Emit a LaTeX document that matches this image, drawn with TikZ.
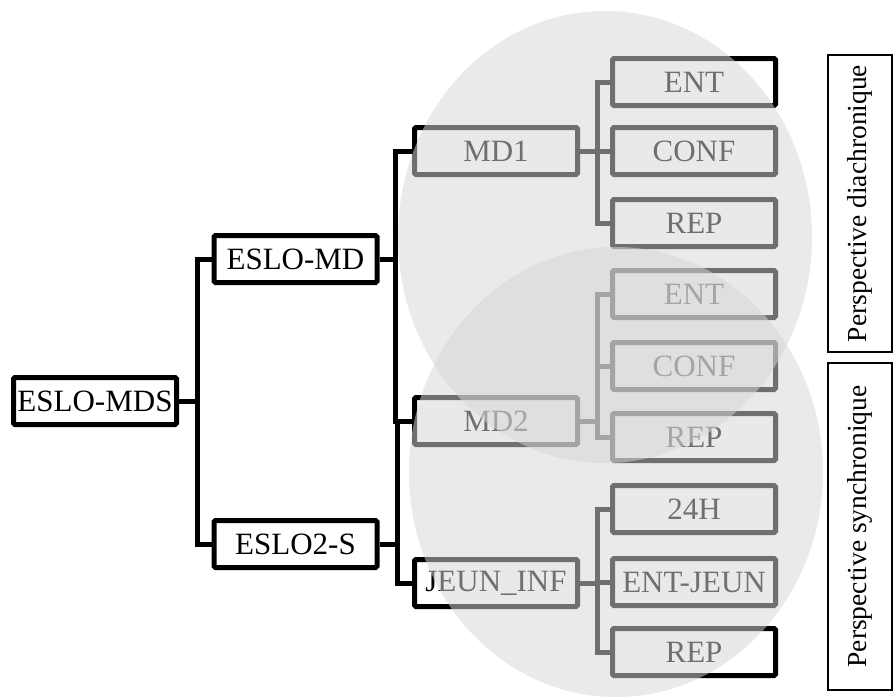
\documentclass[tikz,border=0pt]{standalone}
\usepackage{fontspec}
\usepackage{tikz}
\newfontfamily\sidefont{Liberation Serif}

\begin{document}
\begin{tikzpicture}[x=1pt,y=-1pt,
    corpus/.style={draw=black,line width=5pt,fill=white,rounded corners=1.5pt,
      minimum width=163pt,minimum height=47pt,inner sep=0pt,
      font=\sidefont\fontsize{31}{36}\selectfont},
    link/.style={draw=black,line width=5pt},
    veil/.style={fill=black!16,opacity=0.52},
    sidebox/.style={draw=black,line width=1.1pt,inner sep=0pt,
      minimum height=64pt,font=\sidefont\fontsize{27.5}{32}\selectfont}]
     \useasboundingbox (0,0) rectangle (893,697);
     % tree of the corpus
     \node[corpus] (mds) at (95,401) {ESLO-MDS};
     \node[corpus] (md) at (295.5,259) {ESLO-MD};
     \node[corpus] (s) at (295.5,544) {ESLO2-S};
     \node[corpus] (mdone) at (496,151) {MD1};
     \node[corpus] (mdtwo) at (496,421) {MD2};
     \node[corpus] (jeun) at (496,583) {JEUN\_INF};
     \node[corpus] (e1) at (694,82) {ENT};
     \node[corpus] (c1) at (694,151) {CONF};
     \node[corpus] (r1) at (694,223) {REP};
     \node[corpus] (e2) at (694,294) {ENT};
     \node[corpus] (c2) at (694,366) {CONF};
     \node[corpus] (r2) at (694,437) {REP};
     \node[corpus] (h3) at (694,509) {24H};
     \node[corpus] (ej3) at (694,582) {ENT-JEUN};
     \node[corpus] (r3) at (694,652) {REP};
     \coordinate (j0) at ([xshift=18pt]mds.east);
     \coordinate (j1) at ([xshift=16pt]md.east);
     \coordinate (j2) at ([xshift=18pt]s.east);
     \coordinate (k1) at ([xshift=17pt]mdone.east);
     \coordinate (k2) at ([xshift=17pt]mdtwo.east);
     \coordinate (k3) at ([xshift=17pt,yshift=1pt]jeun.east);
     \draw[link] (mds.east) -- (j0);
     \draw[link] (md.west) -| (j0) |- (s.west);
     \draw[link] (md.east) -- (j1);
     \draw[link] (mdone.west) -| (j1) |- (mdtwo.west);
     \draw[link] (s.east) -- (j2);
     \draw[link] (mdtwo.west) -| (j2) |- (jeun.west);
     \draw[link] (mdone.east) -- (c1.west);
     \draw[link] (e1.west) -| (k1) |- (r1.west);
     \draw[link] (mdtwo.east) -- (k2);
     \draw[link] (e2.west) -| (k2) |- (r2.west);
     \draw[link] (c2.west) -| (k2);
     \draw[link] (jeun.east) -| (k3) -- (ej3.west);
     \draw[link] (h3.west) -| (k3) |- (r3.west);
     % the two perspectives
     \fill[veil] (605,237) ellipse [x radius=207pt,y radius=226pt];
     \fill[veil] (616,472) ellipse [x radius=207pt,y radius=225pt];
     \node[sidebox,rotate=90,minimum width=297pt] (dia) at (860,203.5) {Perspective diachronique};
     \node[sidebox,rotate=90,minimum width=327pt] (syn) at (860,526.5) {Perspective synchronique};
\end{tikzpicture}
\end{document}
